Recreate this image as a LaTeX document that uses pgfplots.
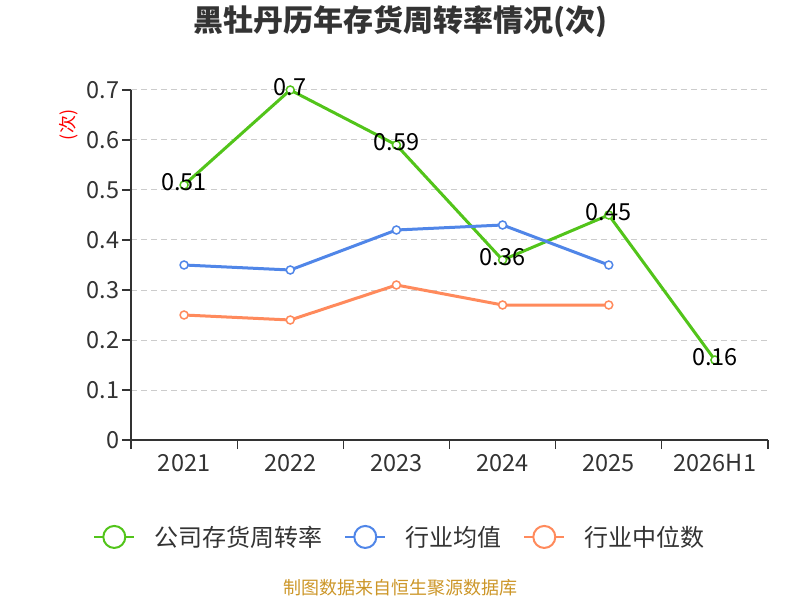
\documentclass[border=0pt]{standalone}
\usepackage{fontspec}
\setmainfont{Noto Sans CJK SC}
\usepackage{pgfplots}
\pgfplotsset{compat=1.18}
\definecolor{cgreen}{RGB}{82,196,26}
\definecolor{cblue}{RGB}{80,134,232}
\definecolor{corange}{RGB}{255,138,92}
\definecolor{axisgray}{RGB}{51,51,51}
\definecolor{txtgray}{RGB}{51,51,51}
\definecolor{gridgray}{RGB}{204,204,204}
\definecolor{srcgold}{RGB}{204,150,40}
\begin{document}
\begin{tikzpicture}[x=1pt,y=1pt]
\path[use as bounding box] (0,0) rectangle (800,600);
\node[font=\bfseries\fontsize{30}{34}\selectfont, text=txtgray] at (400,578) {黑牡丹历年存货周转率情况(次)};
\node[font=\fontsize{18}{20}\selectfont, text=srcgold] at (400,12) {制图数据来自恒生聚源数据库};
\node[font=\fontsize{18}{20}\selectfont, text=red, rotate=90] at (69,475) {(次)};
\begin{axis}[
 at={(131pt,160pt)}, anchor=south west,
 width=637pt, height=350pt, scale only axis,
 xmin=-0.5, xmax=5.5, ymin=0, ymax=0.7,
 axis x line*=bottom, axis y line*=left,
 axis line style={-, draw=axisgray, line width=1.2pt},
 xtick={-0.5,0.5,1.5,2.5,3.5,4.5,5.5}, x tick label as interval,
 xticklabels={2021,2022,2023,2024,2025,2026H1},
 ytick={0,0.1,0.2,0.3,0.4,0.5,0.6,0.7},
 yticklabels={0,0.1,0.2,0.3,0.4,0.5,0.6,0.7},
 tick align=outside, major tick length=9pt,
 tick style={draw=axisgray, line width=1.2pt},
 ymajorgrids, grid style={dash pattern=on 6pt off 4pt, gridgray, line width=1pt},
 ticklabel style={font=\fontsize{23.5}{27}\selectfont, text=txtgray},
 xticklabel style={yshift=-2pt},
 yticklabel style={xshift=1pt},
 clip=false,
 legend columns=3,
 legend style={at={(0.422,-0.277)}, anchor=center, draw=none, fill=none,
   font=\fontsize{24}{27}\selectfont, text=txtgray,
   /tikz/every odd column/.append style={column sep=17pt},
   /tikz/every even column/.append style={column sep=20pt},
   nodes={inner sep=2pt}},
 every node near coord/.append style={anchor=center, yshift=3pt, font=\fontsize{23.5}{27}\selectfont, text=black},
]
\addplot[cgreen, line width=3pt, mark=*, mark size=4pt, mark options={fill=white, line width=1.5pt},
  nodes near coords, point meta=explicit symbolic,
  legend image code/.code={\draw[cgreen, line width=2pt] (0pt,0pt) -- (40pt,0pt); \draw[cgreen, line width=2pt, fill=white] (20pt,0pt) circle (11pt);}]
  coordinates {(0,0.51)[0.51] (1,0.70)[0.7] (2,0.59)[0.59] (3,0.36)[0.36] (4,0.45)[0.45] (5,0.16)[0.16]};
\addlegendentry{公司存货周转率}
\addplot[cblue, line width=3pt, mark=*, mark size=4pt, mark options={fill=white, line width=1.5pt},
  legend image code/.code={\draw[cblue, line width=2pt] (0pt,0pt) -- (40pt,0pt); \draw[cblue, line width=2pt, fill=white] (20pt,0pt) circle (11pt);}]
  coordinates {(0,0.35) (1,0.34) (2,0.42) (3,0.43) (4,0.35)};
\addlegendentry{行业均值}
\addplot[corange, line width=3pt, mark=*, mark size=4pt, mark options={fill=white, line width=1.5pt},
  legend image code/.code={\draw[corange, line width=2pt] (0pt,0pt) -- (40pt,0pt); \draw[corange, line width=2pt, fill=white] (20pt,0pt) circle (11pt);}]
  coordinates {(0,0.25) (1,0.24) (2,0.31) (3,0.27) (4,0.27)};
\addlegendentry{行业中位数}
\end{axis}
\end{tikzpicture}
\end{document}
